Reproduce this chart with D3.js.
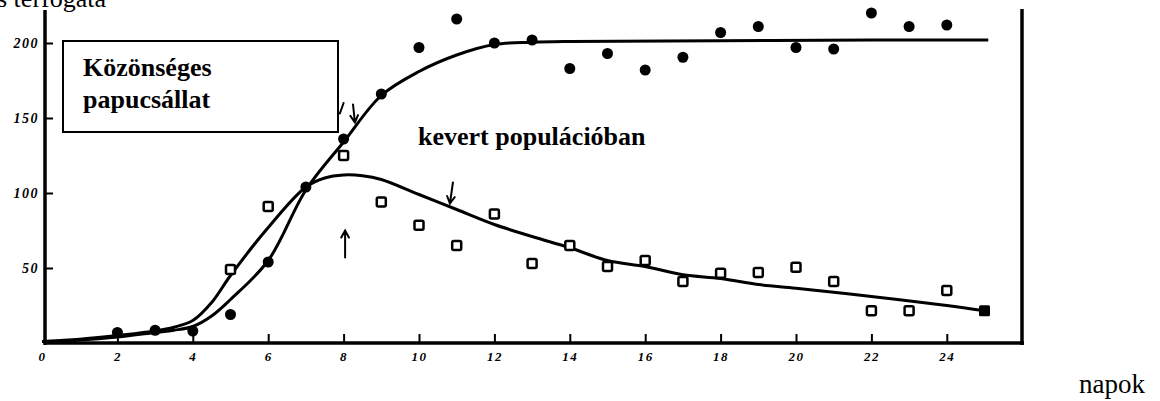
<!DOCTYPE html>
<html><head><meta charset="utf-8">
<script src="https://cdn.jsdelivr.net/npm/d3@7"></script>
<style>body{margin:0;background:#fff;overflow:hidden;} svg{display:block;}</style>
</head><body><svg id="c" width="1160" height="401"></svg>
<script>
// Paramecium alone (filled circles)
const circleDays = [2, 3, 4, 5, 6, 7, 8, 9, 10, 11, 12, 13, 14, 15, 16, 17, 18, 19, 20, 21, 22, 23, 24];
const circleVals = [7, 8.5, 8, 19, 54, 104, 136, 166, 197, 216, 200, 202, 183, 193, 182, 190.5, 207, 211, 197, 196, 220, 211, 212];
// mixed population (open squares)
const squareDays = [5, 6, 8, 9, 10, 11, 12, 13, 14, 15, 16, 17, 18, 19, 20, 21, 22, 23, 24];
const squareVals = [49, 91, 125, 94, 78.5, 65, 86, 53, 65, 51, 55, 41, 46.5, 47, 50.5, 41, 21.5, 21.5, 35];
const solidSquareDays = [25];
const solidSquareVals = [21.5];
// fitted curves as drawn
const aloneCurveDays = [0, 1, 2, 3, 3.5, 4, 4.5, 5, 6, 7, 8, 9, 10, 11, 12, 13, 14, 18, 22, 25.1];
const aloneCurveVals = [1, 2, 4, 7, 8.5, 11, 18, 29, 55, 102, 134, 165, 181, 192, 199, 200.5, 201, 201.5, 202, 202];
const mixedCurveDays = [0, 1, 2, 3, 3.5, 4, 4.5, 5, 6, 7, 7.5, 8, 8.5, 9, 10, 11, 12, 13, 14, 15, 16, 17, 18, 19, 20, 22, 24, 25];
const mixedCurveVals = [1, 2.5, 5, 8, 10.5, 15, 27, 45, 77, 104, 110, 112, 111.5, 109, 99, 89, 79, 71, 63.5, 55, 51, 45.5, 43, 39, 36.5, 31, 25, 21.5];
// axis ticks
const xTicks = [0, 2, 4, 6, 8, 10, 12, 14, 16, 18, 20, 22, 24];
const yTicks = [50, 100, 150, 200];
// hand-drawn arrows (day, value) tail -> tip
const arrowTails = [[8.04, 57], [10.9, 107], [8.25, 159]];
const arrowTips  = [[8.04, 75], [10.82, 93], [8.3, 147]];

const svg = d3.select('#c');
const x = d3.scaleLinear().domain([0, 25]).range([42, 984.5]);
const y = d3.scaleLinear().domain([0, 200]).range([343, 43]);
const serif = "'Liberation Serif','Times New Roman',serif";

// title fragment (clipped at top, as in the source)
svg.append('text').attr('x', -3).attr('y', 7).attr('font-family', serif).attr('font-size', 26)
  .text('s térfogata');

// frame lines
svg.append('line').attr('x1', x(0) + 3).attr('x2', x(0) + 3).attr('y1', 10).attr('y2', 345)
  .attr('stroke', '#000').attr('stroke-width', 3.5);
svg.append('line').attr('x1', x(0) + 2).attr('x2', 1024).attr('y1', y(0)).attr('y2', y(0))
  .attr('stroke', '#000').attr('stroke-width', 3.5);
svg.append('line').attr('x1', 1022).attr('x2', 1022).attr('y1', 9).attr('y2', 345)
  .attr('stroke', '#000').attr('stroke-width', 3.5);

// x axis
const gx = svg.append('g').attr('transform', `translate(0,${y(0)})`)
  .call(d3.axisBottom(x).tickValues(xTicks).tickSizeInner(-9).tickSizeOuter(0).tickPadding(9).tickFormat(d => d));
gx.select('.domain').remove();
gx.selectAll('.tick line').attr('stroke', '#000').attr('stroke-width', 2).filter(d => d === 0).remove();
gx.selectAll('.tick text').attr('font-family', serif).attr('font-style', 'italic').attr('font-weight', 'bold')
  .attr('font-size', 13).attr('letter-spacing', 1.5).attr('fill', '#000');

// y axis
const gy = svg.append('g').attr('transform', `translate(${x(0) + 3},0)`)
  .call(d3.axisLeft(y).tickValues(yTicks).tickSizeInner(-8).tickSizeOuter(0).tickPadding(6));
gy.select('.domain').remove();
gy.selectAll('.tick line').attr('stroke', '#000').attr('stroke-width', 2);
gy.selectAll('.tick text').attr('font-family', serif).attr('font-style', 'italic').attr('font-weight', 'bold')
  .attr('font-size', 14).attr('letter-spacing', 1.5).attr('fill', '#000');

// curves
const line = d3.line().x(d => x(d[0])).y(d => y(d[1])).curve(d3.curveCatmullRom.alpha(0.5));
svg.append('path').datum(d3.zip(aloneCurveDays, aloneCurveVals)).attr('d', line)
  .attr('fill', 'none').attr('stroke', '#000').attr('stroke-width', 3);
svg.append('path').datum(d3.zip(mixedCurveDays, mixedCurveVals)).attr('d', line)
  .attr('fill', 'none').attr('stroke', '#000').attr('stroke-width', 3);

// markers
svg.append('g').selectAll('circle').data(d3.zip(circleDays, circleVals)).join('circle')
  .attr('cx', d => x(d[0])).attr('cy', d => y(d[1])).attr('r', 5.5).attr('fill', '#000');
svg.append('g').selectAll('rect').data(d3.zip(squareDays, squareVals)).join('rect')
  .attr('x', d => x(d[0]) - 4.5).attr('y', d => y(d[1]) - 4.5).attr('width', 9).attr('height', 9).attr('rx', 1.5)
  .attr('fill', '#fff').attr('stroke', '#000').attr('stroke-width', 2.5);
svg.append('g').selectAll('rect').data(d3.zip(solidSquareDays, solidSquareVals)).join('rect')
  .attr('x', d => x(d[0]) - 5.5).attr('y', d => y(d[1]) - 5.5).attr('width', 11).attr('height', 11).attr('rx', 1.5)
  .attr('fill', '#000');

// arrows
const ag = svg.append('g').attr('stroke', '#000').attr('stroke-width', 2).attr('fill', 'none').attr('stroke-linecap', 'round');
arrowTails.forEach((t, i) => {
  const p = arrowTips[i];
  const x1 = x(t[0]), y1 = y(t[1]), x2 = x(p[0]), y2 = y(p[1]);
  const ang = Math.atan2(y2 - y1, x2 - x1);
  const h = 8, s = 0.5;
  ag.append('path').attr('d', `M${x1},${y1}L${x2},${y2}` +
    `M${x2 - h * Math.cos(ang - s)},${y2 - h * Math.sin(ang - s)}L${x2},${y2}L${x2 - h * Math.cos(ang + s)},${y2 - h * Math.sin(ang + s)}`);
});
ag.append('path').attr('d', `M${x(7.9)},${y(153)}L${x(8.0)},${y(160)}`);

// legend box
svg.append('rect').attr('x', 63).attr('y', 41).attr('width', 275).attr('height', 91)
  .attr('fill', '#fff').attr('stroke', '#000').attr('stroke-width', 2);
svg.append('text').attr('x', 83).attr('y', 76).attr('font-family', serif).attr('font-weight', 'bold')
  .attr('font-size', 26).text('Közönséges');
svg.append('text').attr('x', 83).attr('y', 108).attr('font-family', serif).attr('font-weight', 'bold')
  .attr('font-size', 26).text('papucsállat');

svg.append('text').attr('x', 418).attr('y', 145).attr('font-family', serif).attr('font-weight', 'bold')
  .attr('font-size', 26).text('kevert populációban');

svg.append('text').attr('x', 1079).attr('y', 393).attr('font-family', serif)
  .attr('font-size', 27).text('napok');
</script></body></html>
